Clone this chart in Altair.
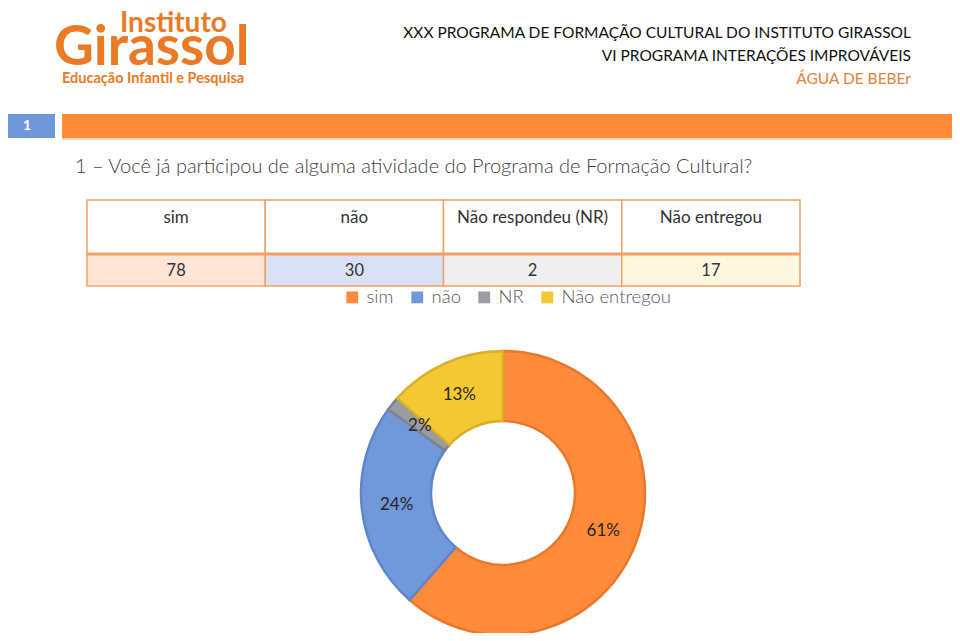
import altair as alt
import pandas as pd

FONT = "Lato"
O = 8  # page margin offset

# ---- data ----
cats = ["sim", "não", "Não respondeu (NR)", "Não entregou"]
legend_labels = ["sim", "não", "NR", "Não entregou"]
counts = [78, 30, 2, 17]
pct_labels = ["61%", "24%", "2%", "13%"]

slice_fill = ["#FF8A3A", "#7098DA", "#9A9CA3", "#F4C832"]
slice_stroke = ["#E8782C", "#5F86C8", "#80838A", "#D8AE2A"]
cell_fill = ["#FDE4D5", "#D9E2F4", "#EFEFEF", "#FFF8E1"]

df = pd.DataFrame({
    "idx": list(range(len(cats))),
    "cat": cats,
    "leg": legend_labels,
    "n": counts,
    "pct": pct_labels,
    "stroke": slice_stroke,
    "cellfill": cell_fill,
})
one = pd.DataFrame({"a": [0]})

ORANGE_LOGO = "#EA7A26"
TABLE_LINE = "#F2A065"


def P(v):
    return v - O


def txt(t, x, y, size, color, weight="normal", align="left", font=FONT):
    return alt.Chart(one).mark_text(
        text=t, fontSize=size, color=color, fontWeight=weight,
        align=align, baseline="middle", font=font,
    ).encode(x=alt.value(P(x)), y=alt.value(P(y)))


def box(x1, x2, y1, y2, color):
    return alt.Chart(one).mark_rect(color=color).encode(
        x=alt.value(P(x1)), x2=alt.value(P(x2)),
        y=alt.value(P(y1)), y2=alt.value(P(y2)),
    )


# ---- logo ----
logo = [
    txt("Instituto", 120, 24, 28, ORANGE_LOGO, weight="bold"),
    txt("Girassol", 54, 48, 55, ORANGE_LOGO, weight="bold"),
    txt("Educação Infantil e Pesquisa", 62, 79, 14.5, ORANGE_LOGO, weight="bold"),
]

# ---- header ----
header = [
    txt("XXX PROGRAMA DE FORMAÇÃO CULTURAL DO INSTITUTO GIRASSOL", 911, 33, 15.5, "#111111", align="right"),
    txt("VI PROGRAMA INTERAÇÕES IMPROVÁVEIS", 911, 56, 15.5, "#111111", align="right"),
    txt("ÁGUA DE BEBEr", 911, 79, 15.5, "#E0833A", align="right"),
]

# ---- banner ----
banner = [
    box(0, 55, 114, 138, "#6E96D8"),
    box(62, 960, 114, 138, "#FF8A38"),
    box(62, 960, 138, 140, "#FCD9C0"),
    txt("1", 27, 126, 14, "white", weight="bold", align="center"),
    txt("1 – Você já participou de alguma atividade do Programa de Formação Cultural?",
        75, 167, 20, "#404040", weight=300),
]

# ---- table ----
xscale = alt.Scale(domain=cats, range=[P(87), P(800)], paddingInner=0, paddingOuter=0)
xenc = alt.X("cat:N", scale=xscale, axis=None)

head_cells = alt.Chart(df).mark_rect(fill="white", stroke=TABLE_LINE, strokeWidth=1.5).encode(
    x=xenc, y=alt.value(P(200)), y2=alt.value(P(254)))
data_cells = alt.Chart(df).mark_rect(stroke=TABLE_LINE, strokeWidth=1.5).encode(
    x=xenc, y=alt.value(P(254)), y2=alt.value(P(286)),
    fill=alt.Fill("cellfill:N", scale=None))
sep = alt.Chart(one).mark_rule(color=TABLE_LINE, strokeWidth=3).encode(
    x=alt.value(P(87)), x2=alt.value(P(800)), y=alt.value(P(254)))
head_text = alt.Chart(df).mark_text(fontSize=17, color="#333333", font=FONT, baseline="middle").encode(
    x=xenc, y=alt.value(P(218)), text="cat:N")
data_text = alt.Chart(df).mark_text(fontSize=16.5, color="#333333", font=FONT, baseline="middle").encode(
    x=xenc, y=alt.value(P(271)), text="n:Q")

# ---- donut ----
CX, CY = P(503), P(493)
donut = alt.Chart(df).mark_arc(radius=142, radius2=72, strokeWidth=2.5).encode(
    theta=alt.Theta("n:Q", stack=True),
    color=alt.Color(
        "leg:N",
        scale=alt.Scale(domain=legend_labels, range=slice_fill),
        legend=alt.Legend(
            title=None, orient="none", legendX=P(343), legendY=P(288),
            direction="horizontal", symbolType="square", symbolSize=140,
            labelFontSize=18.5, labelColor="#595959", labelFont=FONT, labelFontWeight=300,
            columnPadding=14, labelOffset=5, symbolStrokeWidth=0,
        ),
    ),
    stroke=alt.Stroke("stroke:N", scale=None),
    order=alt.Order("idx:Q"),
    x=alt.value(CX), y=alt.value(CY),
)
labels = alt.Chart(df).mark_text(radius=107, fontSize=17, color="#262626", font=FONT).encode(
    theta=alt.Theta("n:Q", stack=True),
    text="pct:N",
    order=alt.Order("idx:Q"),
    x=alt.value(CX), y=alt.value(CY),
)

chart = alt.layer(
    *logo, *header, *banner,
    head_cells, data_cells, sep, head_text, data_text,
    donut, labels,
).properties(
    width=944, height=625, padding=0, autosize=alt.AutoSizeParams(type="none"),
    background="white",
).configure_view(stroke=None)

chart.save("out.html", embed_options={"renderer": "svg", "actions": False})
